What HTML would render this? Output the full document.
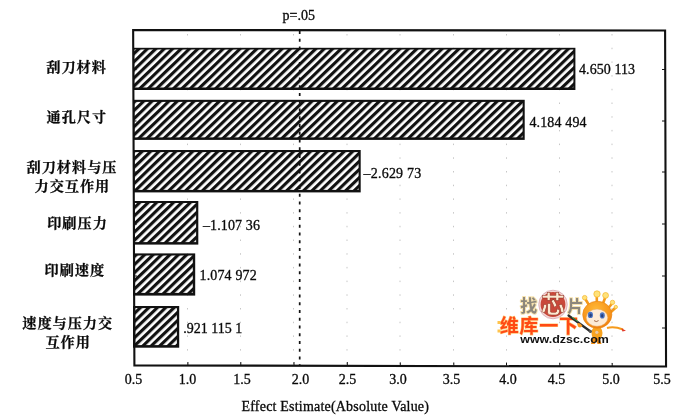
<!DOCTYPE html>
<html lang="zh">
<head>
<meta charset="utf-8">
<title>Pareto Chart of Effect Estimate</title>
<style>
html,body{margin:0;padding:0;background:#fff;}
body{width:700px;height:415px;overflow:hidden;position:relative;}
svg{position:absolute;left:0;top:0;display:block;}
.num{font-family:"Liberation Serif","Noto Serif CJK SC",serif;font-size:14px;fill:#0a0a0a;stroke:#0a0a0a;stroke-width:0.3px;}
.cn{font-family:"Liberation Serif","Noto Serif CJK SC",serif;font-size:14.2px;letter-spacing:0.95px;font-weight:700;fill:#0a0a0a;stroke:#0a0a0a;stroke-width:0.25px;text-anchor:middle;}
</style>
</head>
<body>
<svg width="700" height="415" viewBox="0 0 700 415">
<defs>
<pattern id="hatch" width="5.85" height="5.85" patternUnits="userSpaceOnUse" patternTransform="translate(2 0) rotate(46)">
<rect x="0" y="0" width="5.85" height="5.85" fill="#fff"/>
<rect x="0" y="0" width="3.15" height="5.85" fill="#111"/>
</pattern>
<radialGradient id="hd" cx="0.45" cy="0.3" r="0.75"><stop offset="0" stop-color="#ffb838"/><stop offset="0.6" stop-color="#f8981d"/><stop offset="1" stop-color="#ee7d10"/></radialGradient>
</defs>
<rect x="0" y="0" width="700" height="415" fill="#fff"/>
<g id="chart">
<!-- faint grid -->
<g stroke="#999" stroke-width="1" stroke-dasharray="1.5 12.2" fill="none" opacity="0.55">
<path d="M187.5 34V364M240.5 34V364M293.5 34V364M347 34V364M400 34V364M453.5 34V364M506.5 34V364M559.5 34V364M612 34V364"/>
</g>
<!-- bars -->
<g>
<rect x="133.0" y="47.8" width="442.4" height="42.2" fill="#111"/>
<rect x="134.34" y="49.5" width="439.06" height="38.0" fill="url(#hatch)"/>
<rect x="133.0" y="99.8" width="391.7" height="40.1" fill="#111"/>
<rect x="134.53" y="101.9" width="388.07" height="35.5" fill="url(#hatch)"/>
<rect x="133.0" y="150.0" width="227.7" height="42.4" fill="#111"/>
<rect x="134.71" y="152.1" width="223.89" height="37.8" fill="url(#hatch)"/>
<rect x="133.0" y="201.0" width="65.3" height="43.6" fill="#111"/>
<rect x="134.90" y="203.0" width="61.20" height="39.1" fill="url(#hatch)"/>
<rect x="133.0" y="253.4" width="62.2" height="42.2" fill="#111"/>
<rect x="135.08" y="255.5" width="57.72" height="37.4" fill="url(#hatch)"/>
<rect x="133.0" y="306.0" width="46.2" height="41.7" fill="#111"/>
<rect x="135.27" y="308.1" width="41.63" height="37.0" fill="url(#hatch)"/>
</g>
<!-- p line -->
<line x1="299.7" y1="31" x2="299.7" y2="365" stroke="#111" stroke-width="1.7" stroke-dasharray="3.1 4.65"/>
<!-- frame -->
<path d="M133.15 30.0L665.1 30.5L666.05 366.5L134.4 365.4Z" fill="none" stroke="#111" stroke-width="2.1" stroke-linejoin="miter"/>
<!-- ticks -->
<path d="M665 69.5h-3M665 121h-3M665 172h-3M665 224h-3M665 276h-3M665 328h-3M134.5 69.5h2M134.5 121h2M135 172h2M135 224h2M135 276h2M135 328h2" stroke="#111" stroke-width="1"/>
<path d="M187.9 365v-3M240.8 365v-3M294 365v-3M347.3 365v-3M400.3 365.4v-3M453.8 365.5v-3M506.5 365.6v-3M559.8 365.8v-3M612.2 366v-3" stroke="#111" stroke-width="1"/>
</g>
<!-- watermark -->
<g id="wm">
<g font-family='"Liberation Sans","Noto Sans CJK SC",sans-serif' font-weight="900">
<text x="520.3" y="312" font-size="17" font-weight="700" fill="#8d877c" stroke="#f6e2ae" stroke-width="2" paint-order="stroke" stroke-linejoin="round">找</text>
<text x="567.5" y="312" font-size="16" font-weight="700" fill="#8d877c" stroke="#f6e2ae" stroke-width="2" paint-order="stroke" stroke-linejoin="round">片</text>
<circle cx="553" cy="304.5" r="13.2" fill="#c9483a" stroke="#f3d7d6" stroke-width="1.6"/>
<circle cx="553" cy="304.5" r="14.3" fill="none" stroke="#c98a94" stroke-width="0.6"/>
<text x="553" y="313.3" font-size="24" font-weight="700" fill="#fbe9d2" stroke="#8a2a1c" stroke-width="0.5" text-anchor="middle">芯</text>
<text x="499.8" y="333.2" font-size="19" font-weight="700" fill="#ff4a14" stroke="#ffc879" stroke-width="1.1" paint-order="stroke" stroke-linejoin="round" letter-spacing="0.75">维库一下</text>
</g>
<rect x="497.5" y="321" width="3" height="3" fill="#ffc44d"/>
<rect x="497.5" y="329.5" width="3" height="3" fill="#ffc44d"/>
<!-- mascot -->
<g>
<path d="M607 328Q614 326 623 329.5" fill="none" stroke="#f59a1c" stroke-width="2"/>
<path d="M621.5 328.3l4.5 2.4-3.6 0.8z" fill="#e23a2a"/>
<g stroke="#f59a1c" stroke-width="2.6" stroke-linecap="round" fill="none">
<path d="M589 305L585 298.5M596.8 302V296M603 303.5L605.4 297M608.5 308L612 303.5M611 312L615.2 308"/>
</g>
<g fill="#ffe27a" stroke="#f5b52a" stroke-width="0.7">
<circle cx="584.7" cy="297.7" r="2.3"/><circle cx="597" cy="294" r="3.2"/><circle cx="605.6" cy="295.4" r="2.9"/><circle cx="612.5" cy="302.4" r="2.2"/><circle cx="615.8" cy="307" r="1.7"/>
</g>
<ellipse cx="597" cy="333" rx="5.5" ry="7" fill="#f8a31f"/>
<path d="M592.5 338l-1.5 6h4l1-4 1.5 4h4l-2-6z" fill="#f08c12"/>
<circle cx="596.8" cy="332.3" r="1.6" fill="#e8c8a8"/>
<ellipse cx="597.3" cy="314.7" rx="14.6" ry="13.5" fill="url(#hd)" stroke="#e8820f" stroke-width="0.6"/>
<ellipse cx="597" cy="317.7" rx="10.8" ry="8.6" fill="#fdebd6" stroke="#e9a45a" stroke-width="0.5"/>
<ellipse cx="590.4" cy="314.9" rx="2.6" ry="3.2" fill="#4a74c4"/><ellipse cx="590.6" cy="315.3" rx="1.2" ry="1.7" fill="#27407c"/>
<ellipse cx="602.3" cy="315.4" rx="2.5" ry="3.1" fill="#4a74c4"/><ellipse cx="602.2" cy="315.8" rx="1.2" ry="1.7" fill="#27407c"/>
<path d="M594 320.6q2.3 2 4.6 0" fill="none" stroke="#8a4a2a" stroke-width="0.8"/>
<path d="M568.5 315.5L590.5 331.5" stroke="#2b2b2b" stroke-width="2.2" stroke-linecap="round"/>
<path d="M572 317.2L578 321.6" stroke="#3aa34a" stroke-width="1"/>
<path d="M577 323.5q3 -1.5 5.5 2.5q-2 2.5 -4.5 0.5z" fill="#f8981d"/>
<circle cx="590.3" cy="331.3" r="1.6" fill="#555"/>
</g>
<text x="520.3" y="343.2" font-family='"Liberation Sans",sans-serif' font-weight="700" font-size="11.5" fill="#111" textLength="88.5" lengthAdjust="spacingAndGlyphs">www.dzsc.com</text>
</g>
<!-- labels -->
<text class="num" x="282.6" y="19.5">p=.05</text>
<g class="num" text-anchor="middle">
<text x="133.5" y="384">0.5</text>
<text x="187.5" y="384">1.0</text>
<text x="242" y="384">1.5</text>
<text x="300.5" y="384">2.0</text>
<text x="347.5" y="384">2.5</text>
<text x="398" y="384">3.0</text>
<text x="451.5" y="384">3.5</text>
<text x="508" y="384">4.0</text>
<text x="556.5" y="384">4.5</text>
<text x="611" y="384">5.0</text>
<text x="662" y="384">5.5</text>
</g>
<text class="num" x="241.5" y="411" letter-spacing="0.2">Effect Estimate(Absolute Value)</text>
<g class="num">
<text x="579" y="74.4" letter-spacing="0.08">4.650 113</text>
<text x="529.4" y="126.6" letter-spacing="0.15">4.184 494</text>
<text x="363.6" y="178" letter-spacing="0.2">–2.629 73</text>
<text x="203" y="230" letter-spacing="0.12">–1.107 36</text>
<text x="199.5" y="279.6" letter-spacing="0.15">1.074 972</text>
<text x="183.2" y="332.6">.921 115 1</text>
</g>
<g class="cn">
<text x="76.6" y="71.6">刮刀材料</text>
<text x="76.8" y="121.6">通孔尺寸</text>
<text x="72" y="172.4">刮刀材料与压</text>
<text x="72.4" y="191.4">力交互作用</text>
<text x="77.5" y="227.5">印刷压力</text>
<text x="74.8" y="274.9">印刷速度</text>
<text x="67.7" y="327.5">速度与压力交</text>
<text x="68.2" y="346.6">互作用</text>
</g>
</svg>
</body>
</html>
